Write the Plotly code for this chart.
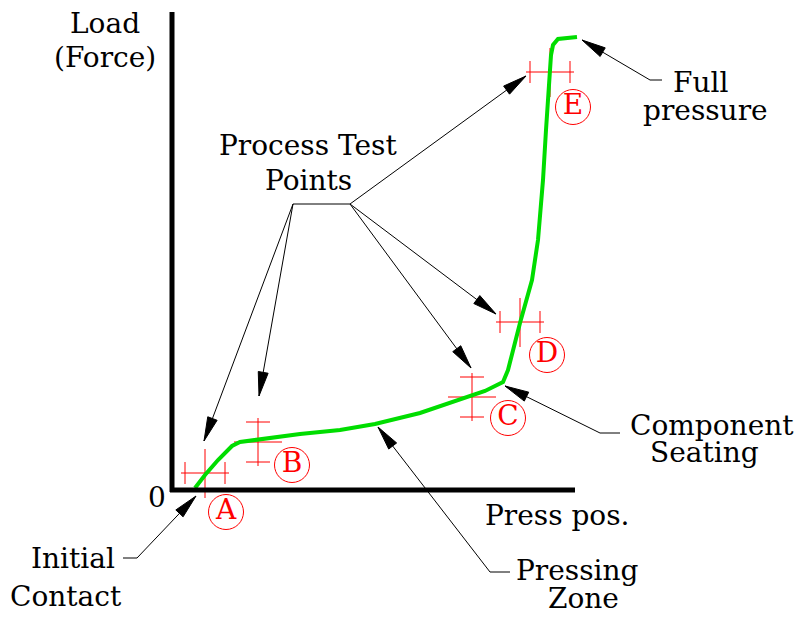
import numpy as np
import plotly.graph_objects as go

# press position vs load, origin at the corner of the axes
curve_pos = [23, 33, 46, 60, 68, 88, 128, 168, 203, 248, 288, 313, 331, 336,
             348, 360, 366, 371, 374, 377, 379, 381, 386, 405]
curve_load = [2, 15, 30, 44, 48, 51, 56, 60, 66, 77, 90, 99, 108, 120,
              167, 210, 250, 310, 360, 410, 435, 445, 451, 453]

# process test points
tp_names = ['A', 'B', 'C', 'D', 'E']
tp_pos = [33, 86, 300, 348, 378]
tp_load = [17, 48, 93, 168, 418]
tp_kind = ['h', 'v', 'v', 'h', 'h']
circ_pos = [54, 120, 336, 375, 401]
circ_load = [-22, 25, 72, 135, 383]

# leader arrows: tail -> tip
arrow_tail_pos = [121, 121, 178, 178, 178, 478, 428, 318, -35]
arrow_tail_load = [286, 286, 286, 286, 286, 410, 57, -82, -68]
arrow_tip_pos = [32, 87, 299, 324, 354, 410, 333, 206, 24]
arrow_tip_load = [49, 94, 122, 176, 414, 450, 104, 63, -6]
# short horizontal stubs at the start of the leaders
stub_pos0 = [121, 478, 428, 318, -35]
stub_pos1 = [178, 490, 448, 338, -49]
stub_load = [286, 410, 57, -82, -68]

label_text = ['Load', '(Force)', 'Process Test', 'Points', 'Full', 'pressure',
              'Component', 'Seating', 'Press pos.', 'Pressing', 'Zone',
              'Initial', 'Contact', '0']
label_pos = [-67, -67, 136, 136, 528, 533, 540, 532, 385, 405, 411, -99, -106, -15]
label_load = [467, 433, 345, 310, 408, 380, 65, 38, -25, -80, -108, -68, -106, -7]

FONT = 'DejaVu Serif'

fig = go.Figure()

# crosshairs
cx, cy = [], []
for px, py, k in zip(tp_pos, tp_load, tp_kind):
    if k == 'h':
        segs = [((px - 24, py), (px + 24, py)), ((px, py - 25), (px, py + 24)),
                ((px - 20, py - 11), (px - 20, py + 11)),
                ((px + 20, py - 11), (px + 20, py + 11))]
    else:
        segs = [((px, py - 24), (px, py + 24)), ((px - 24, py), (px + 24, py)),
                ((px - 12, py - 20), (px + 12, py - 20)),
                ((px - 12, py + 20), (px + 12, py + 20))]
    for (x0, y0), (x1, y1) in segs:
        cx += [x0, x1, None]
        cy += [y0, y1, None]
fig.add_trace(go.Scatter(x=cx, y=cy, mode='lines',
                         line=dict(color='#ff0000', width=1), hoverinfo='skip'))

# load curve
fig.add_trace(go.Scatter(x=curve_pos, y=curve_load, mode='lines',
                         line=dict(color='#00dd00', width=4)))

# circled letters
fig.add_trace(go.Scatter(
    x=circ_pos, y=circ_load, mode='markers+text', text=tp_names,
    textposition='middle center',
    textfont=dict(family=FONT, size=28, color='#ff0000'),
    marker=dict(symbol='circle-open', size=35, color='#ff0000',
                line=dict(width=1, color='#ff0000'))))

# leader lines and arrowheads
lx, ly = [], []
for x0, y0, x1, y1 in zip(arrow_tail_pos, arrow_tail_load, arrow_tip_pos, arrow_tip_load):
    lx += [x0, x1, None]
    ly += [y0, y1, None]
for x0, x1, y in zip(stub_pos0, stub_pos1, stub_load):
    lx += [x0, x1, None]
    ly += [y, y, None]
fig.add_trace(go.Scatter(x=lx, y=ly, mode='lines',
                         line=dict(color='black', width=1), hoverinfo='skip'))

for x0, y0, x1, y1 in zip(arrow_tail_pos, arrow_tail_load, arrow_tip_pos, arrow_tip_load):
    d = np.array([x1 - x0, y1 - y0], dtype=float)
    u = d / np.hypot(*d)
    n = np.array([-u[1], u[0]])
    tip = np.array([x1, y1], dtype=float)
    base = tip - 24 * u
    p1 = base + 5 * n
    p2 = base - 5 * n
    fig.add_trace(go.Scatter(x=[tip[0], p1[0], p2[0], tip[0]],
                             y=[tip[1], p1[1], p2[1], tip[1]],
                             mode='lines', fill='toself', fillcolor='black',
                             line=dict(color='black', width=1), hoverinfo='skip'))

# axes
fig.add_shape(type='line', x0=0, x1=0, y0=-2, y1=478, line=dict(color='black', width=5))
fig.add_shape(type='line', x0=-2, x1=403, y0=0, y1=0, line=dict(color='black', width=5))

for t, x, y in zip(label_text, label_pos, label_load):
    fig.add_annotation(x=x, y=y, text=t, showarrow=False,
                       font=dict(family=FONT, size=28, color='black'),
                       xanchor='center', yanchor='middle')

# page body has an 8px margin, so the figure is 8px smaller on each side
fig.update_layout(
    width=795, height=612,
    margin=dict(l=0, r=0, t=0, b=0),
    paper_bgcolor='white', plot_bgcolor='white',
    showlegend=False,
    xaxis=dict(range=[-164, 631], visible=False, fixedrange=True),
    yaxis=dict(range=[-130, 482], visible=False, fixedrange=True),
)

fig.write_html("out.html")
